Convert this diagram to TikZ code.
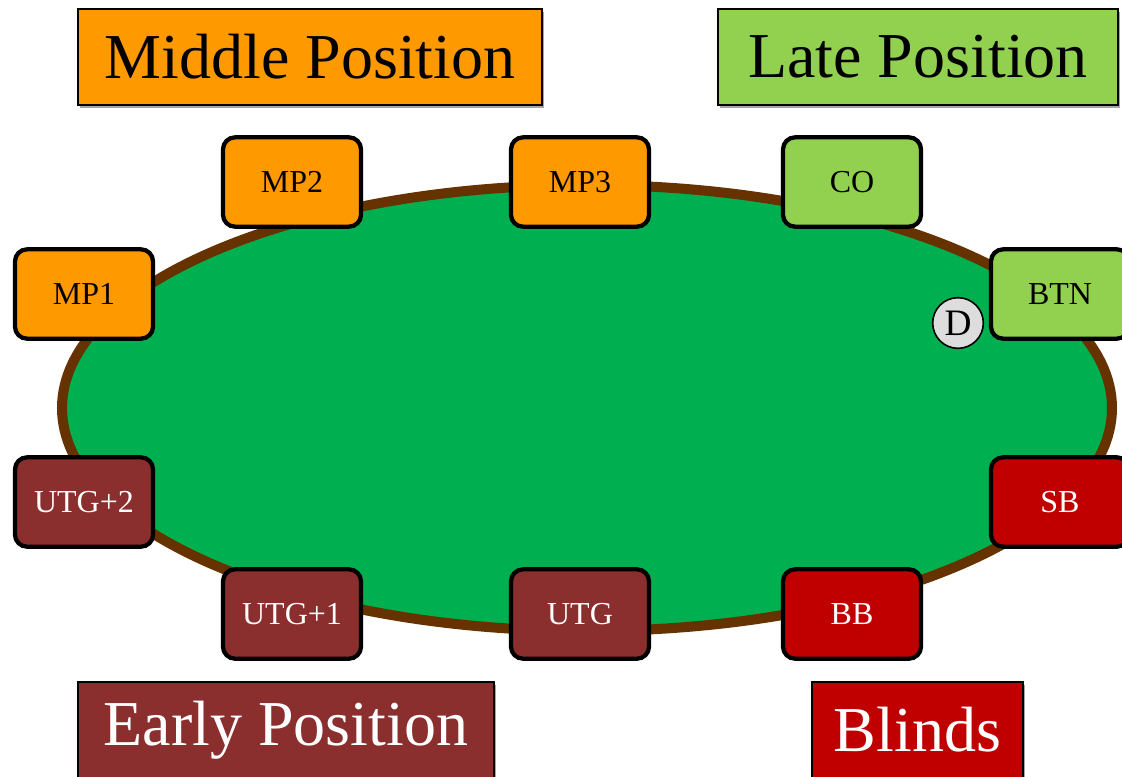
\documentclass[tikz,border=0pt]{standalone}
\usepackage{fontspec}
\setmainfont{Liberation Serif}
\usetikzlibrary{shadows}
\definecolor{tablegreen}{HTML}{00AF50}
\definecolor{rail}{HTML}{663300}
\definecolor{midorange}{HTML}{FF9900}
\definecolor{lategreen}{HTML}{92D050}
\definecolor{earlyred}{HTML}{8B2E2E}
\definecolor{blindred}{HTML}{C00000}
\definecolor{chipgray}{HTML}{DDDDDD}
\tikzset{
  seat/.style={draw=black, line width=3.2pt, rounded corners=9pt, minimum width=103.5pt, minimum height=67pt, font=\fontsize{24}{28}\selectfont, inner sep=0pt},
  midseat/.style={seat, fill=midorange, text=black},
  lateseat/.style={seat, fill=lategreen, text=black},
  earlyseat/.style={seat, fill=earlyred, text=white},
  blindseat/.style={seat, fill=blindred, text=white},
  groupbox/.style={draw=black, line width=1.5pt, minimum height=72pt, inner sep=0pt, font=\fontsize{48}{52}\selectfont,
     drop shadow={shadow xshift=1.5pt, shadow yshift=-2pt, opacity=0.35, fill=black}},
  chip/.style={circle, draw=black, line width=1.2pt, fill=chipgray, minimum size=38pt, inner sep=0pt, font=\fontsize{28}{30}\selectfont}
}
\begin{document}
\begin{tikzpicture}[x=0.75pt,y=-0.75pt]
\useasboundingbox (0,0) rectangle (1122,776);
% table
\draw[line width=7.5pt, draw=rail, fill=tablegreen] (587,408) ellipse [x radius=525, y radius=223];
% seats
\node[midseat] (mp2) at (292,182) {MP2};
\node[midseat] (mp3) at (580,182) {MP3};
\node[lateseat] (co) at (852,182) {CO};
\node[midseat] (mp1) at (84,294) {MP1};
\node[lateseat] (btn) at (1060,294) {BTN};
\node[earlyseat] (utg2) at (84,502) {UTG+2};
\node[blindseat] (sb) at (1060,502) {SB};
\node[earlyseat] (utg1) at (292,614) {UTG+1};
\node[earlyseat] (utg) at (580,614) {UTG};
\node[blindseat] (bb) at (852,614) {BB};
% dealer chip
\node[chip] (dealer) at (958,323) {D};
% group labels
\node[groupbox, fill=midorange, text=black, minimum width=348pt] (middle) at (310,57) {Middle Position};
\node[groupbox, fill=lategreen, text=black, minimum width=300pt] (late) at (918,57) {Late Position};
\node[groupbox, fill=earlyred, text=white, minimum width=312pt] (early) at (286,730) {Early Position};
\node[groupbox, fill=blindred, text=white, minimum width=158pt] (blinds) at (917.5,730) {Blinds};
\end{tikzpicture}
\end{document}
